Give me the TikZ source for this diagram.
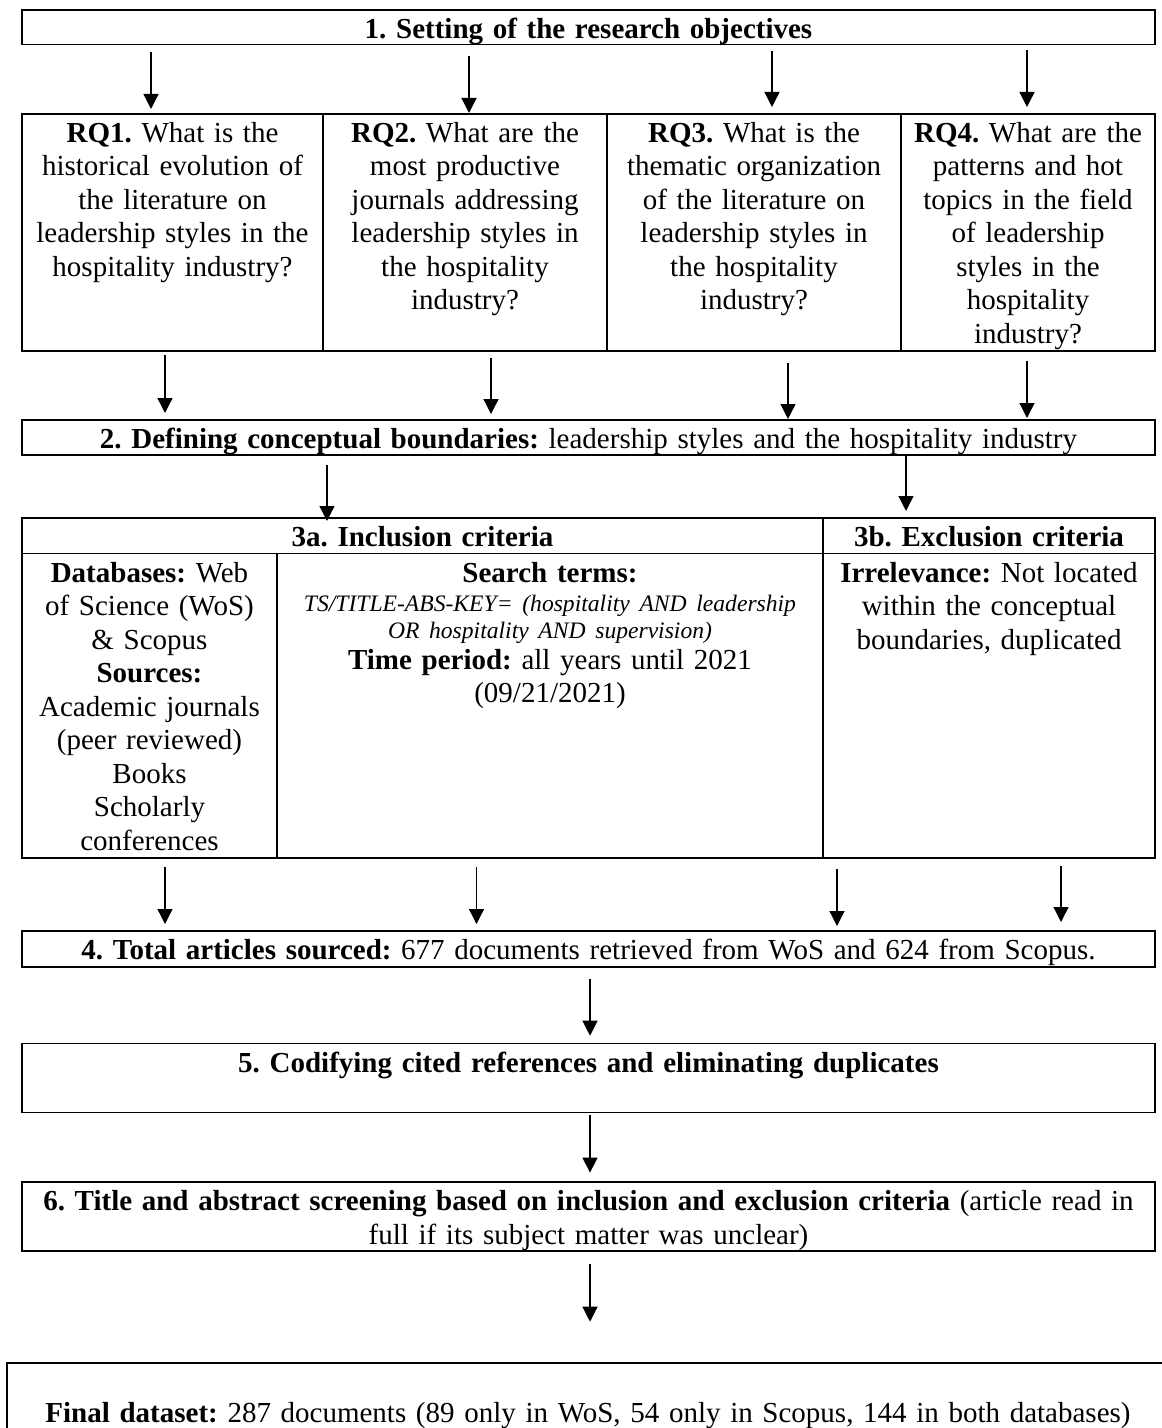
\documentclass[tikz,border=0pt]{standalone}
\usepackage{fontspec}
\setmainfont{Liberation Serif}
\usepackage{tikz}
\usetikzlibrary{arrows.meta,positioning}

\frenchspacing
\newcommand{\qry}[1]{{\fontsize{11.8pt}{13.85pt}\selectfont\itshape #1}}

\begin{document}
\begin{tikzpicture}[
  x=0.5pt, y=-0.5pt,
  box/.style={rectangle, draw=black, line width=0.65pt, outer sep=0pt, inner sep=0pt, anchor=north west, align=center, text height=14.25pt, font=\fontsize{14.5pt}{16.75pt}\selectfont\frenchspacing},
  arrow/.style={-{Triangle[length=7.5pt, width=7.5pt]}, line width=0.65pt, draw=black},
]
\useasboundingbox (0,0) rectangle (1161,1428);

% Step 1
\node[box, text width=566.5pt, text depth=3pt] (objectives) at (22,10) {\textbf{1. Setting of the research objectives}};

% Research questions
\node[box, text width=150.5pt, text depth=104.25pt] (rq1) at (22,114) {\textbf{RQ1.} What is the\\historical evolution of\\the literature on\\leadership styles in the\\hospitality industry?};
\node[box, text width=142pt, text depth=104.25pt, right=0pt of rq1] (rq2) {\textbf{RQ2.} What are the\\most productive\\journals addressing\\leadership styles in\\the hospitality\\industry?};
\node[box, text width=147pt, text depth=104.25pt, right=0pt of rq2] (rq3) {\textbf{RQ3.} What is the\\thematic organization\\of the literature on\\leadership styles in\\the hospitality\\industry?};
\node[box, text width=127pt, text depth=104.25pt, right=0pt of rq3] (rq4) {\textbf{RQ4.} What are the\\patterns and hot\\topics in the field\\of leadership\\styles in the\\hospitality\\industry?};

% Step 2
\node[box, text width=566.5pt, text depth=3.25pt] (bounds) at (22,420) {\textbf{2. Defining conceptual boundaries:} leadership styles and the hospitality industry};

% Step 3 criteria
\node[box, text width=400.5pt, text depth=3.5pt] (incl) at (22,518) {\textbf{3a. Inclusion criteria}};
\node[box, text width=166pt, text depth=3.5pt, right=0pt of incl] (excl) {\textbf{3b. Exclusion criteria}};
\node[box, text width=127.5pt, text depth=138pt] (dbase) at (22,553.5) {\textbf{Databases:} Web\\of Science (WoS)\\\& Scopus\\\textbf{Sources:}\\Academic journals\\(peer reviewed)\\Books\\Scholarly\\conferences};
\node[box, text width=273pt, text depth=138pt, right=0pt of dbase] (search) {\textbf{Search terms:}\\[-2.25pt]\qry{TS/TITLE-ABS-KEY= (hospitality AND leadership}\\[-3.25pt]\qry{OR hospitality AND supervision)}\\[-1.25pt]\textbf{Time period:} all years until 2021\\(09/21/2021)};
\node[box, text width=166pt, text depth=138pt, right=0pt of search] (irrel) {\textbf{Irrelevance:} Not located\\within the conceptual\\boundaries, duplicated};

% Steps 4 to 6
\node[box, text width=566.5pt, text depth=3.75pt] (sourced) at (22,931) {\textbf{4. Total articles sourced:} 677 documents retrieved from WoS and 624 from Scopus.};
\node[box, text width=566.5pt, text depth=20.25pt] (codify) at (22,1043.5) {\textbf{5. Codifying cited references and eliminating duplicates}};
\node[box, text width=566.5pt, text depth=20.25pt] (screen) at (22,1182) {\textbf{6. Title and abstract screening based on inclusion and exclusion criteria} (article read in\\full if its subject matter was unclear)};

% Result
\node[box, text width=581pt, text height=29.5pt, text depth=24pt] (dataset) at (7,1363) {\textbf{Final dataset:} 287 documents (89 only in WoS, 54 only in Scopus, 144 in both databases)};

% Arrow columns
\coordinate (ca1) at (151,0);
\coordinate (ca2) at (469,0);
\coordinate (ca3) at (772,0);
\coordinate (ca4) at (1027,0);
\coordinate (cb1) at (165,0);
\coordinate (cb2) at (491,0);
\coordinate (cb3) at (788,0);
\coordinate (cc1) at (327,0);
\coordinate (cc2) at (906,0);
\coordinate (cd2) at (476.5,0);
\coordinate (cd3) at (837,0);
\coordinate (cd4) at (1061,0);
\coordinate (ce) at (590,0);

% Arrows
\draw[arrow, shorten <=4pt, shorten >=2.5pt] (objectives.south -| ca1) -- (rq1.north -| ca1);
\draw[arrow, shorten <=6pt, shorten >=0.5pt] (objectives.south -| ca2) -- (rq2.north -| ca2);
\draw[arrow, shorten <=3.5pt, shorten >=3.5pt] (objectives.south -| ca3) -- (rq3.north -| ca3);
\draw[arrow, shorten <=3pt, shorten >=3.5pt] (objectives.south -| ca4) -- (rq4.north -| ca4);
\draw[arrow, shorten <=2.25pt, shorten >=3.5pt] (rq1.south -| cb1) -- (bounds.north -| cb1);
\draw[arrow, shorten <=3.5pt, shorten >=3pt] (rq2.south -| cb2) -- (bounds.north -| cb2);
\draw[arrow, shorten <=6pt, shorten >=0.5pt] (rq3.south -| cb3) -- (bounds.north -| cb3);
\draw[arrow, shorten <=5pt, shorten >=1pt] (rq4.south -| ca4) -- (bounds.north -| ca4);
\draw[arrow, shorten <=5pt, shorten >=-1.5pt] (bounds.south -| cc1) -- (incl.north -| cc1);
\draw[arrow, shorten >=3.5pt] (bounds.south -| cc2) -- (excl.north -| cc2);
\draw[arrow, shorten <=4.5pt, shorten >=3.5pt] (dbase.south -| cb1) -- (sourced.north -| cb1);
\draw[arrow, shorten <=4.5pt, shorten >=3.5pt] (search.south -| cd2) -- (sourced.north -| cd2);
\draw[arrow, shorten <=5.5pt, shorten >=2.5pt] (irrel.south -| cd3) -- (sourced.north -| cd3);
\draw[arrow, shorten <=3.75pt, shorten >=4.5pt] (irrel.south -| cd4) -- (sourced.north -| cd4);
\draw[arrow, shorten <=5.85pt, shorten >=3.9pt] (sourced.south -| ce) -- (codify.north -| ce);
\draw[arrow, shorten <=1.45pt, shorten >=4.7pt] (codify.south -| ce) -- (screen.north -| ce);
\draw[arrow, shorten <=6.65pt, shorten >=20.65pt] (screen.south -| ce) -- (dataset.north -| ce);

\end{tikzpicture}
\end{document}
